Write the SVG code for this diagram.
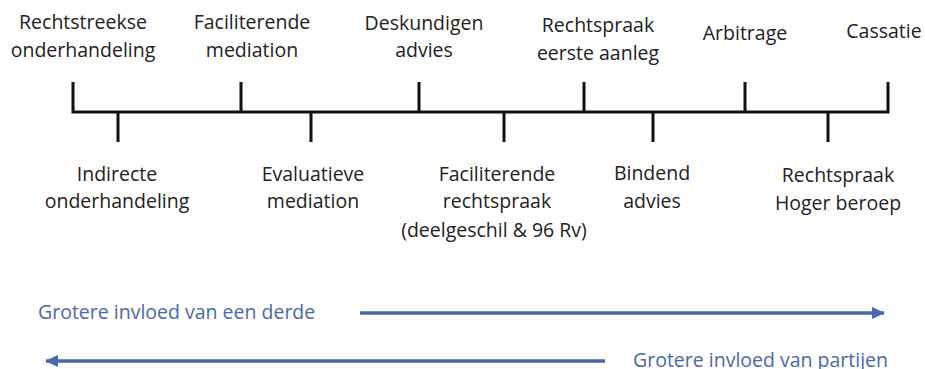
<svg xmlns="http://www.w3.org/2000/svg" width="925" height="369" viewBox="0 0 925 369">
<style>
.t{font-family:"Open Sans","Liberation Sans",sans-serif;font-size:19.5px;fill:#222;text-anchor:middle}
.b{font-family:"Open Sans","Liberation Sans",sans-serif;font-size:19.5px;fill:#4a68ad}
.k{stroke:#111;stroke-width:3;fill:none;stroke-linecap:butt}
.a{stroke:#4a68ad;stroke-width:3.5;fill:none}
</style>
<defs>
<marker id="ah" markerUnits="userSpaceOnUse" markerWidth="14" markerHeight="12" refX="12" refY="6" orient="auto">
<path d="M0,0 L13,6 L0,12 Z" fill="#4a68ad"/>
</marker>
</defs>
<rect width="925" height="369" fill="#fff"/>
<g id="connectors">
<path class="k" d="M73,82 V112 H888 V82"/>
<line class="a" x1="360" y1="313" x2="884" y2="313" marker-end="url(#ah)"/>
<line class="a" x1="605" y1="361" x2="46" y2="361" marker-end="url(#ah)"/>
</g>
<g id="rechtstreekse"><text class="t" x="83" y="29">Rechtstreekse</text><text class="t" x="83" y="57">onderhandeling</text></g>
<g id="indirecte"><line class="k" x1="118" y1="112" x2="118" y2="142"/><text class="t" x="117" y="181">Indirecte</text><text class="t" x="117" y="208">onderhandeling</text></g>
<g id="faciliterende-mediation"><line class="k" x1="241" y1="82" x2="241" y2="112"/><text class="t" x="252" y="29">Faciliterende</text><text class="t" x="252" y="57">mediation</text></g>
<g id="evaluatieve"><line class="k" x1="311" y1="112" x2="311" y2="142"/><text class="t" x="313" y="181">Evaluatieve</text><text class="t" x="313" y="208">mediation</text></g>
<g id="deskundigen"><line class="k" x1="419" y1="82" x2="419" y2="112"/><text class="t" x="424" y="30">Deskundigen</text><text class="t" x="424" y="57">advies</text></g>
<g id="faciliterende-rechtspraak"><line class="k" x1="504" y1="112" x2="504" y2="142"/><text class="t" x="497" y="181">Faciliterende</text><text class="t" x="497" y="208">rechtspraak</text><text class="t" x="494" y="237">(deelgeschil &amp; 96 Rv)</text></g>
<g id="eerste-aanleg"><line class="k" x1="584" y1="82" x2="584" y2="112"/><text class="t" x="598" y="32">Rechtspraak</text><text class="t" x="598" y="60">eerste aanleg</text></g>
<g id="bindend"><line class="k" x1="653" y1="112" x2="653" y2="142"/><text class="t" x="652" y="180">Bindend</text><text class="t" x="652" y="208">advies</text></g>
<g id="arbitrage"><line class="k" x1="745" y1="82" x2="745" y2="112"/><text class="t" x="745" y="40">Arbitrage</text></g>
<g id="hoger-beroep"><line class="k" x1="828" y1="112" x2="828" y2="142"/><text class="t" x="838" y="182">Rechtspraak</text><text class="t" x="838" y="210">Hoger beroep</text></g>
<g id="cassatie"><text class="t" x="884" y="38">Cassatie</text></g>
<g id="invloed-derde"><text class="b" x="38" y="319">Grotere invloed van een derde</text></g>
<g id="invloed-partijen"><text class="b" x="633" y="367">Grotere invloed van partijen</text></g>
</svg>
